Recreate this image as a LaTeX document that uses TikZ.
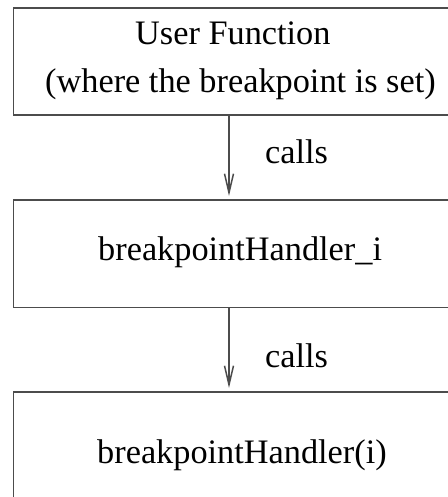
\documentclass[tikz,border=0pt]{standalone}
\usepackage{fontspec}
\setmainfont{Liberation Serif}
\usetikzlibrary{arrows.meta}
\begin{document}
\begin{tikzpicture}[x=1pt,y=-1pt,
  box/.style={draw=black!70, line width=1.6pt, rectangle, inner sep=0pt,
    anchor=north west, minimum width=455pt},
  lbl/.style={inner sep=0pt, anchor=base west, font=\fontsize{34.3}{41}\selectfont},
  callarrow/.style={draw=black!70, line width=1.5pt,
    -{Straight Barb[length=19pt,width=9pt,line width=1.5pt]}, shorten >=3pt}]
\useasboundingbox (0,0) rectangle (447,497);

% three stacked boxes (right edges and last bottom edge lie outside the page)
\node[box, minimum height=107.5pt] (uf) at (12.7,7) {};
\node[box, minimum height=107.5pt] (bhi) at (12.7,199) {};
\node[box, minimum height=160pt] (bh) at (12.7,391) {};

% box texts
\node[lbl] (t1) at (135,45) {User Function};
\node[lbl] (t2) at (45,93) {(where the breakpoint is set)};
\node[lbl] (t3) at (98,260) {breakpointHandler\_i};
\node[lbl] (t4) at (97,463) {breakpointHandler(i)};

% call arrows
\coordinate (ax) at (229,0);
\draw[callarrow] (uf.south -| ax) -- (bhi.north -| ax);
\draw[callarrow] (bhi.south -| ax) -- (bh.north -| ax);
\node[lbl] (c1) at (265,163) {calls};
\node[lbl] (c2) at (265,367) {calls};
\end{tikzpicture}
\end{document}
